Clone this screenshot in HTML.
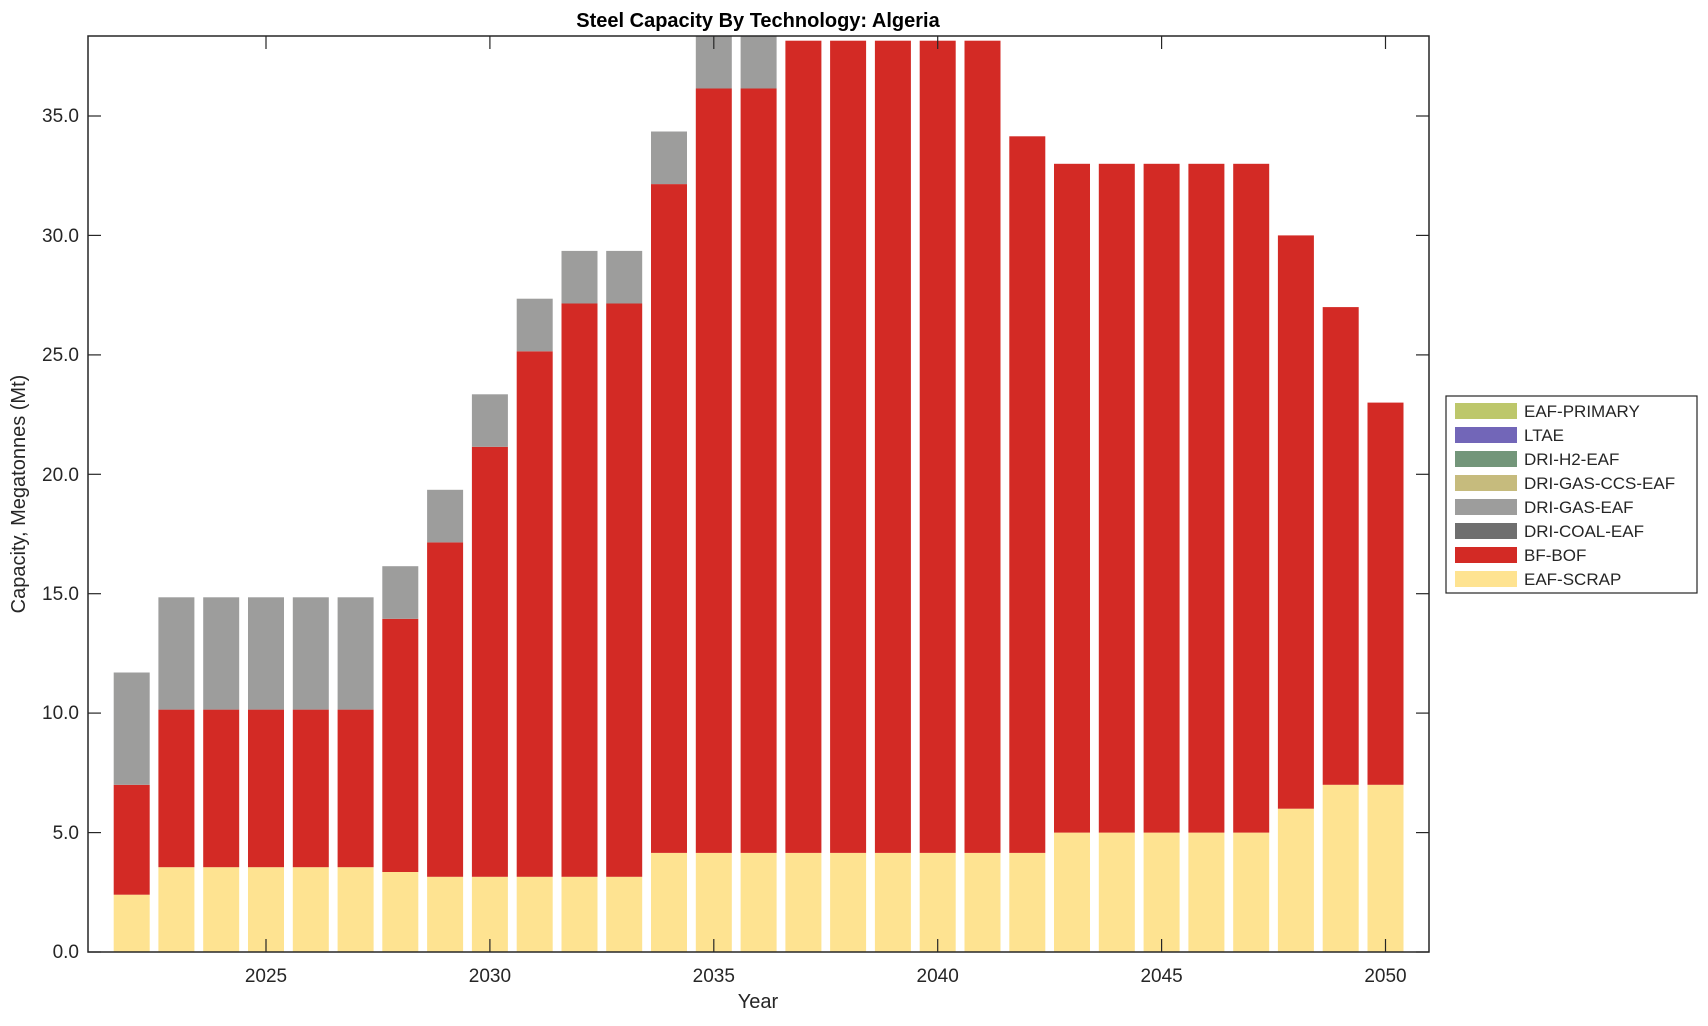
<!DOCTYPE html>
<html><head><meta charset="utf-8"><style>
html,body{margin:0;padding:0;background:#fff;}
svg text{font-family:"Liberation Sans",Arial,sans-serif;fill:#262626;}
.s{fill:#fee391}.b{fill:#d32a25}.g{fill:#9d9d9c}
</style></head><body>
<svg width="1708" height="1021" xmlns="http://www.w3.org/2000/svg">
<text x="758" y="27" text-anchor="middle" font-size="20" font-weight="bold" style="fill:#000">Steel Capacity By Technology: Algeria</text>
<g>
<rect class="s" x="113.7" y="894.7" width="36" height="57.3"/><rect class="b" x="113.7" y="784.8" width="36" height="109.9"/><rect class="g" x="113.7" y="672.5" width="36" height="112.3"/>
<rect class="s" x="158.4" y="867.2" width="36" height="84.8"/><rect class="b" x="158.4" y="709.6" width="36" height="157.6"/><rect class="g" x="158.4" y="597.3" width="36" height="112.3"/>
<rect class="s" x="203.2" y="867.2" width="36" height="84.8"/><rect class="b" x="203.2" y="709.6" width="36" height="157.6"/><rect class="g" x="203.2" y="597.3" width="36" height="112.3"/>
<rect class="s" x="248.0" y="867.2" width="36" height="84.8"/><rect class="b" x="248.0" y="709.6" width="36" height="157.6"/><rect class="g" x="248.0" y="597.3" width="36" height="112.3"/>
<rect class="s" x="292.8" y="867.2" width="36" height="84.8"/><rect class="b" x="292.8" y="709.6" width="36" height="157.6"/><rect class="g" x="292.8" y="597.3" width="36" height="112.3"/>
<rect class="s" x="337.6" y="867.2" width="36" height="84.8"/><rect class="b" x="337.6" y="709.6" width="36" height="157.6"/><rect class="g" x="337.6" y="597.3" width="36" height="112.3"/>
<rect class="s" x="382.3" y="872.0" width="36" height="80.0"/><rect class="b" x="382.3" y="618.8" width="36" height="253.2"/><rect class="g" x="382.3" y="566.2" width="36" height="52.6"/>
<rect class="s" x="427.1" y="876.8" width="36" height="75.2"/><rect class="b" x="427.1" y="542.4" width="36" height="334.4"/><rect class="g" x="427.1" y="489.8" width="36" height="52.6"/>
<rect class="s" x="471.9" y="876.8" width="36" height="75.2"/><rect class="b" x="471.9" y="446.8" width="36" height="430.0"/><rect class="g" x="471.9" y="394.3" width="36" height="52.5"/>
<rect class="s" x="516.7" y="876.8" width="36" height="75.2"/><rect class="b" x="516.7" y="351.3" width="36" height="525.5"/><rect class="g" x="516.7" y="298.7" width="36" height="52.6"/>
<rect class="s" x="561.5" y="876.8" width="36" height="75.2"/><rect class="b" x="561.5" y="303.5" width="36" height="573.3"/><rect class="g" x="561.5" y="250.9" width="36" height="52.6"/>
<rect class="s" x="606.2" y="876.8" width="36" height="75.2"/><rect class="b" x="606.2" y="303.5" width="36" height="573.3"/><rect class="g" x="606.2" y="250.9" width="36" height="52.6"/>
<rect class="s" x="651.0" y="852.9" width="36" height="99.1"/><rect class="b" x="651.0" y="184.1" width="36" height="668.8"/><rect class="g" x="651.0" y="131.5" width="36" height="52.6"/>
<rect class="s" x="695.8" y="852.9" width="36" height="99.1"/><rect class="b" x="695.8" y="88.5" width="36" height="764.4"/><rect class="g" x="695.8" y="36" width="36" height="52.5"/>
<rect class="s" x="740.6" y="852.9" width="36" height="99.1"/><rect class="b" x="740.6" y="88.5" width="36" height="764.4"/><rect class="g" x="740.6" y="36" width="36" height="52.5"/>
<rect class="s" x="785.4" y="852.9" width="36" height="99.1"/><rect class="b" x="785.4" y="40.7" width="36" height="812.2"/>
<rect class="s" x="830.1" y="852.9" width="36" height="99.1"/><rect class="b" x="830.1" y="40.7" width="36" height="812.2"/>
<rect class="s" x="874.9" y="852.9" width="36" height="99.1"/><rect class="b" x="874.9" y="40.7" width="36" height="812.2"/>
<rect class="s" x="919.7" y="852.9" width="36" height="99.1"/><rect class="b" x="919.7" y="40.7" width="36" height="812.2"/>
<rect class="s" x="964.5" y="852.9" width="36" height="99.1"/><rect class="b" x="964.5" y="40.7" width="36" height="812.2"/>
<rect class="s" x="1009.3" y="852.9" width="36" height="99.1"/><rect class="b" x="1009.3" y="136.3" width="36" height="716.6"/>
<rect class="s" x="1054.0" y="832.6" width="36" height="119.4"/><rect class="b" x="1054.0" y="163.8" width="36" height="668.8"/>
<rect class="s" x="1098.8" y="832.6" width="36" height="119.4"/><rect class="b" x="1098.8" y="163.8" width="36" height="668.8"/>
<rect class="s" x="1143.6" y="832.6" width="36" height="119.4"/><rect class="b" x="1143.6" y="163.8" width="36" height="668.8"/>
<rect class="s" x="1188.4" y="832.6" width="36" height="119.4"/><rect class="b" x="1188.4" y="163.8" width="36" height="668.8"/>
<rect class="s" x="1233.2" y="832.6" width="36" height="119.4"/><rect class="b" x="1233.2" y="163.8" width="36" height="668.8"/>
<rect class="s" x="1277.9" y="808.7" width="36" height="143.3"/><rect class="b" x="1277.9" y="235.4" width="36" height="573.3"/>
<rect class="s" x="1322.7" y="784.8" width="36" height="167.2"/><rect class="b" x="1322.7" y="307.1" width="36" height="477.7"/>
<rect class="s" x="1367.5" y="784.8" width="36" height="167.2"/><rect class="b" x="1367.5" y="402.6" width="36" height="382.2"/>
</g>
<rect x="88" y="36" width="1341" height="916" fill="none" stroke="#262626" stroke-width="1.5"/>
<g stroke="#262626" stroke-width="1.2">
<line x1="88" y1="952" x2="101" y2="952"/><line x1="1416" y1="952" x2="1429" y2="952"/>
<line x1="88" y1="832.6" x2="101" y2="832.6"/><line x1="1416" y1="832.6" x2="1429" y2="832.6"/>
<line x1="88" y1="713.1" x2="101" y2="713.1"/><line x1="1416" y1="713.1" x2="1429" y2="713.1"/>
<line x1="88" y1="593.7" x2="101" y2="593.7"/><line x1="1416" y1="593.7" x2="1429" y2="593.7"/>
<line x1="88" y1="474.3" x2="101" y2="474.3"/><line x1="1416" y1="474.3" x2="1429" y2="474.3"/>
<line x1="88" y1="354.9" x2="101" y2="354.9"/><line x1="1416" y1="354.9" x2="1429" y2="354.9"/>
<line x1="88" y1="235.4" x2="101" y2="235.4"/><line x1="1416" y1="235.4" x2="1429" y2="235.4"/>
<line x1="88" y1="116" x2="101" y2="116"/><line x1="1416" y1="116" x2="1429" y2="116"/>
<line x1="266" y1="952" x2="266" y2="939"/><line x1="266" y1="36" x2="266" y2="49"/>
<line x1="489.9" y1="952" x2="489.9" y2="939"/><line x1="489.9" y1="36" x2="489.9" y2="49"/>
<line x1="713.8" y1="952" x2="713.8" y2="939"/><line x1="713.8" y1="36" x2="713.8" y2="49"/>
<line x1="937.7" y1="952" x2="937.7" y2="939"/><line x1="937.7" y1="36" x2="937.7" y2="49"/>
<line x1="1161.6" y1="952" x2="1161.6" y2="939"/><line x1="1161.6" y1="36" x2="1161.6" y2="49"/>
<line x1="1385.5" y1="952" x2="1385.5" y2="939"/><line x1="1385.5" y1="36" x2="1385.5" y2="49"/>
</g>
<g font-size="19" text-anchor="end">
<text x="79" y="958">0.0</text><text x="79" y="839">5.0</text><text x="79" y="719">10.0</text><text x="79" y="600">15.0</text>
<text x="79" y="481">20.0</text><text x="79" y="361">25.0</text><text x="79" y="242">30.0</text><text x="79" y="122">35.0</text>
</g>
<g font-size="19" text-anchor="middle">
<text x="266" y="982">2025</text><text x="489.9" y="982">2030</text><text x="713.8" y="982">2035</text>
<text x="937.7" y="982">2040</text><text x="1161.6" y="982">2045</text><text x="1385.5" y="982">2050</text>
</g>
<text x="758" y="1008" text-anchor="middle" font-size="20">Year</text>
<text transform="translate(25,494) rotate(-90)" text-anchor="middle" font-size="20">Capacity, Megatonnes (Mt)</text>
<rect x="1446" y="396" width="251" height="197" fill="#fff" stroke="#262626" stroke-width="1.2"/>
<g font-size="17" style="fill:#000">
<rect x="1455" y="403" width="62" height="16" fill="#bdc76b"/><text x="1524" y="417">EAF-PRIMARY</text>
<rect x="1455" y="427" width="62" height="16" fill="#7266b8"/><text x="1524" y="441">LTAE</text>
<rect x="1455" y="451" width="62" height="16" fill="#73967a"/><text x="1524" y="465">DRI-H2-EAF</text>
<rect x="1455" y="475" width="62" height="16" fill="#c6bb7d"/><text x="1524" y="489">DRI-GAS-CCS-EAF</text>
<rect x="1455" y="499" width="62" height="16" fill="#9d9d9c"/><text x="1524" y="513">DRI-GAS-EAF</text>
<rect x="1455" y="523" width="62" height="16" fill="#6f6f6f"/><text x="1524" y="537">DRI-COAL-EAF</text>
<rect x="1455" y="547" width="62" height="16" fill="#d32a25"/><text x="1524" y="561">BF-BOF</text>
<rect x="1455" y="571" width="62" height="16" fill="#fee391"/><text x="1524" y="585">EAF-SCRAP</text>
</g>
</svg>
</body></html>
